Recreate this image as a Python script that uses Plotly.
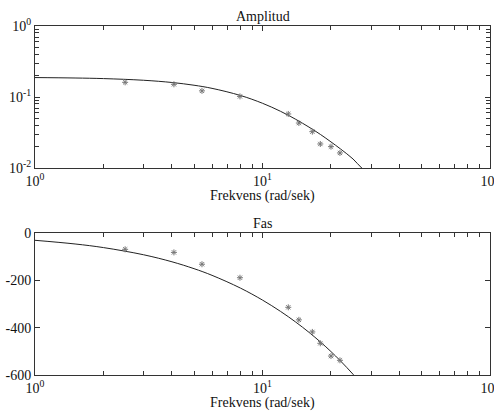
import plotly.graph_objects as go

# measured data (points)
w_meas = [2.49, 4.08, 5.42, 7.96, 12.98, 14.45, 16.56, 17.95, 20.0, 21.9]
amp_meas = [0.161, 0.151, 0.122, 0.102, 0.0577, 0.043, 0.0325, 0.0218, 0.020, 0.0163]
phase_meas = [-69, -82, -132, -189, -314, -367, -418, -466, -520, -538]

# model curve
w_curve = [1, 1.5, 2, 3, 4, 5, 6, 8, 10, 12, 14, 16, 18, 20, 22, 25, 27.3, 30]
amp_curve = [0.1879, 0.1852, 0.1817, 0.1721, 0.1601, 0.1465, 0.1324, 0.1051, 0.0816,
             0.0629, 0.0485, 0.0377, 0.0296, 0.0233, 0.0186, 0.0134, 0.0100, 0.0080]
w_curve2 = [1, 1.5, 2, 3, 4, 5, 6, 8, 10, 12, 14, 16, 18, 20, 22, 25, 28]
phase_curve = [-30.9, -46.4, -61.7, -92.0, -121.7, -150.7, -178.9, -232.8, -283.5,
               -331.2, -376.4, -419.6, -461.0, -501.1, -540.1, -596.9, -652.2]

x_tickvals = [1, 10, 100]
x_ticktext = ["10<sup>0</sup>", "10<sup>1</sup>", "10<sup>2</sup>"]
y1_tickvals = [0.01, 0.1, 1]
y1_ticktext = ["10<sup>-2</sup>", "10<sup>-1</sup>", "10<sup>0</sup>"]
y2_tickvals = [0, -200, -400, -600]
y2_ticktext = ["0", "-200", "-400", "-600"]

FONT = "Liberation Serif, Times New Roman, serif"
TXT = "#111111"
LINE = "#333333"
MK = "#777777"
FS = 14

fig = go.Figure()
fig.add_trace(go.Scatter(x=w_curve, y=amp_curve, mode="lines", line=dict(color="#222", width=1, shape="spline"),
                         xaxis="x", yaxis="y", showlegend=False))
fig.add_trace(go.Scatter(x=w_meas, y=amp_meas, mode="markers",
                         marker=dict(symbol="asterisk-open", size=5, color=MK, line=dict(color=MK, width=1)),
                         xaxis="x", yaxis="y", showlegend=False))
fig.add_trace(go.Scatter(x=w_curve2, y=phase_curve, mode="lines", line=dict(color="#222", width=1, shape="spline"),
                         xaxis="x2", yaxis="y2", showlegend=False))
fig.add_trace(go.Scatter(x=w_meas, y=phase_meas, mode="markers",
                         marker=dict(symbol="asterisk-open", size=5, color=MK, line=dict(color=MK, width=1)),
                         xaxis="x2", yaxis="y2", showlegend=False))

def xax(anchor):
    return dict(type="log", range=[0, 2], anchor=anchor, showgrid=False, zeroline=False,
                showline=True, linecolor=LINE, linewidth=1, mirror="ticks", automargin=False,
                ticks="inside", ticklen=5, tickcolor=LINE, ticklabeloverflow="allow",
                tickvals=x_tickvals, ticktext=x_ticktext,
                minor=dict(ticks="inside", ticklen=4, tickcolor=LINE, dtick="D1", showgrid=False),
                tickfont=dict(family=FONT, size=FS, color=TXT))

fig.update_layout(
    width=494, height=412,
    margin=dict(l=35, r=4, t=26, b=37),
    paper_bgcolor="white", plot_bgcolor="white",
    font=dict(family=FONT, size=FS, color=TXT),
    xaxis=dict(**xax("y"), domain=[0, 1]),
    yaxis=dict(type="log", range=[-2, 0], domain=[0.5931, 1], anchor="x", showgrid=False, zeroline=False,
               showline=True, linecolor=LINE, linewidth=1, mirror="ticks", automargin=False,
               ticks="inside", ticklen=5, tickcolor=LINE, ticklabeloverflow="allow",
               tickvals=y1_tickvals, ticktext=y1_ticktext,
               minor=dict(ticks="inside", ticklen=4, tickcolor=LINE, dtick="D1", showgrid=False),
               tickfont=dict(family=FONT, size=FS, color=TXT)),
    xaxis2=dict(**xax("y2"), domain=[0, 1]),
    yaxis2=dict(range=[-600, 0], domain=[0, 0.4069], anchor="x2", showgrid=False, zeroline=False,
                showline=True, linecolor=LINE, linewidth=1, mirror="ticks", automargin=False,
                ticks="inside", ticklen=5, tickcolor=LINE, ticklabeloverflow="allow",
                tickvals=y2_tickvals, ticktext=y2_ticktext,
                tickfont=dict(family=FONT, size=FS, color=TXT)),
    annotations=[
        dict(text="Amplitud", xref="paper", yref="paper", x=0.5, y=1, xanchor="center",
             yanchor="bottom", showarrow=False, font=dict(family=FONT, size=FS, color=TXT)),
        dict(text="Fas", xref="paper", yref="paper", x=0.5, y=0.4069, xanchor="center",
             yanchor="bottom", showarrow=False, font=dict(family=FONT, size=FS, color=TXT)),
        dict(text="Frekvens (rad/sek)", xref="paper", yref="paper", x=0.5, y=0.5129, xanchor="center",
             yanchor="middle", showarrow=False, font=dict(family=FONT, size=FS, color=TXT)),
        dict(text="Frekvens (rad/sek)", xref="paper", yref="paper", x=0.5, y=-0.0802, xanchor="center",
             yanchor="middle", showarrow=False, font=dict(family=FONT, size=FS, color=TXT)),
    ],
)

fig.write_html("out.html", config={"displayModeBar": False},
               post_script="document.body.style.margin='0';document.body.style.overflow='hidden';")
